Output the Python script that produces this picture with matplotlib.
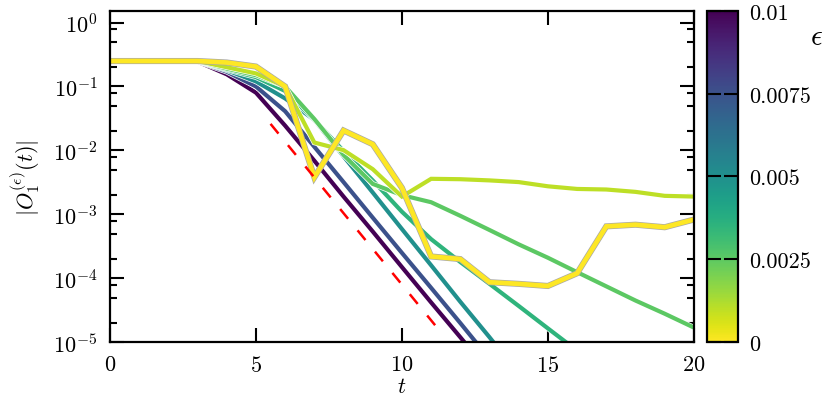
import matplotlib
matplotlib.use('Agg')
import matplotlib.pyplot as plt
import matplotlib.patheffects as pe
from matplotlib.ticker import LogLocator, FixedLocator, NullFormatter
import numpy as np

plt.rcParams['font.family'] = 'serif'
plt.rcParams['font.serif'] = ['cmr10']
plt.rcParams['mathtext.fontset'] = 'cm'
plt.rcParams['axes.formatter.use_mathtext'] = True

# time grid
t = np.arange(21)

# |O_1^(eps)(t)| for each eps (curves leaving the axes are cut)
eps_values = [0.01, 0.0075, 0.005, 0.0035, 0.0025, 0.001, 0.0]

o_eps_0100 = [0.25, 0.25, 0.25, 0.245, 0.155, 0.08, 0.0244, 0.0069, 1.9e-3, 5.4e-4,
              1.5e-4, 4.2e-5, 1.2e-5, 3.4e-6]
o_eps_0075 = [0.25, 0.25, 0.25, 0.247, 0.17, 0.1, 0.041, 0.0114, 3.2e-3, 8.9e-4,
              2.5e-4, 7.1e-5, 2.0e-5, 5.5e-6]
o_eps_0050 = [0.25, 0.25, 0.25, 0.248, 0.18, 0.12, 0.065, 0.03, 8.1e-3, 2.2e-3,
              5.9e-4, 1.6e-4, 4.3e-5, 1.2e-5, 3.2e-6]
o_eps_0035 = [0.25, 0.25, 0.25, 0.249, 0.185, 0.14, 0.085, 0.03, 0.0098, 3.4e-3,
              1.1e-3, 4.1e-4, 1.8e-4, 8.2e-5, 3.7e-5, 1.65e-5, 7.4e-6]
o_eps_0025 = [0.25, 0.25, 0.25, 0.249, 0.19, 0.15, 0.1, 0.031, 0.0085, 3.0e-3,
              2.0e-3, 1.55e-3, 9.5e-4, 5.7e-4, 3.4e-4, 2.1e-4, 1.25e-4, 7.5e-5,
              4.5e-5, 2.8e-5, 1.7e-5]
o_eps_0010 = [0.25, 0.25, 0.25, 0.25, 0.2, 0.16, 0.1, 0.0133, 0.0101, 5.1e-3,
              1.9e-3, 3.6e-3, 3.55e-3, 3.4e-3, 3.2e-3, 2.75e-3, 2.5e-3, 2.45e-3,
              2.25e-3, 1.95e-3, 1.9e-3]
o_eps_0000 = [0.25, 0.25, 0.25, 0.25, 0.237, 0.205, 0.1, 0.0038, 0.0205, 0.0125,
              2.6e-3, 2.2e-4, 2.0e-4, 8.7e-5, 8.2e-5, 7.6e-5, 1.2e-4, 6.5e-4,
              6.9e-4, 6.3e-4, 8.3e-4]

curves = [o_eps_0100, o_eps_0075, o_eps_0050, o_eps_0035, o_eps_0025, o_eps_0010, o_eps_0000]

# reference slope (red dashed)
t_ref = [5.5, 11.25]
o_ref = [0.026, 1.6e-5]

cbar_ticks = [0, 0.0025, 0.005, 0.0075, 0.01]
cbar_labels = ['0', '0.0025', '0.005', '0.0075', '0.01']

cmap = plt.get_cmap('viridis_r')
norm = matplotlib.colors.Normalize(vmin=0, vmax=0.01)

fig = plt.figure(figsize=(8.3, 4.02), dpi=100)
ax = fig.add_axes([0.1325, 0.146, 0.7035, 0.8235])

for eps, vals in zip(eps_values, curves):
    c = cmap(norm(eps))
    if eps == 0:
        lw, edge = 3.4, '#a8a8a8'
    else:
        lw, edge = 3.0, 'white'
    ax.plot(t[:len(vals)], vals, color=c, lw=lw, solid_joinstyle='miter',
            path_effects=[pe.Stroke(linewidth=lw + 1.0, foreground=edge), pe.Normal()])

ax.plot(t_ref, o_ref, color='red', lw=1.8, ls=(0, (5, 6)))

ax.set_yscale('log')
ax.set_xlim(0, 20)
ax.set_ylim(1e-5, 1.5)
ax.xaxis.set_major_locator(FixedLocator([0, 5, 10, 15, 20]))
ax.yaxis.set_major_locator(LogLocator(base=10, numticks=10))
ax.yaxis.set_minor_locator(LogLocator(base=10, subs=(2, 5, 8), numticks=10))
ax.yaxis.set_minor_formatter(NullFormatter())

ax.tick_params(which='both', direction='in', top=True, right=True, width=1.5,
               labelsize=16, pad=9)
ax.tick_params(which='major', length=10)
ax.tick_params(which='minor', length=5)
for s in ax.spines.values():
    s.set_linewidth(1.6)

ax.set_xlabel('$t$', fontsize=16, labelpad=1)
ax.set_ylabel(r'$|O_1^{(\epsilon)}(t)|$', fontsize=16, labelpad=8)

# colorbar
cax = fig.add_axes([0.852, 0.147, 0.0373, 0.823])
sm = matplotlib.cm.ScalarMappable(norm=norm, cmap=cmap)
cb = fig.colorbar(sm, cax=cax, ticks=cbar_ticks)
cb.ax.set_yticklabels(cbar_labels)
cb.outline.set_linewidth(1.6)
cax.tick_params(direction='in', left=True, right=True, length=10, width=1.5,
                labelsize=16, pad=8)
fig.text(0.984, 0.905, r'$\epsilon$', fontsize=21, ha='center', va='center')

fig.savefig('out.png', dpi=100)
